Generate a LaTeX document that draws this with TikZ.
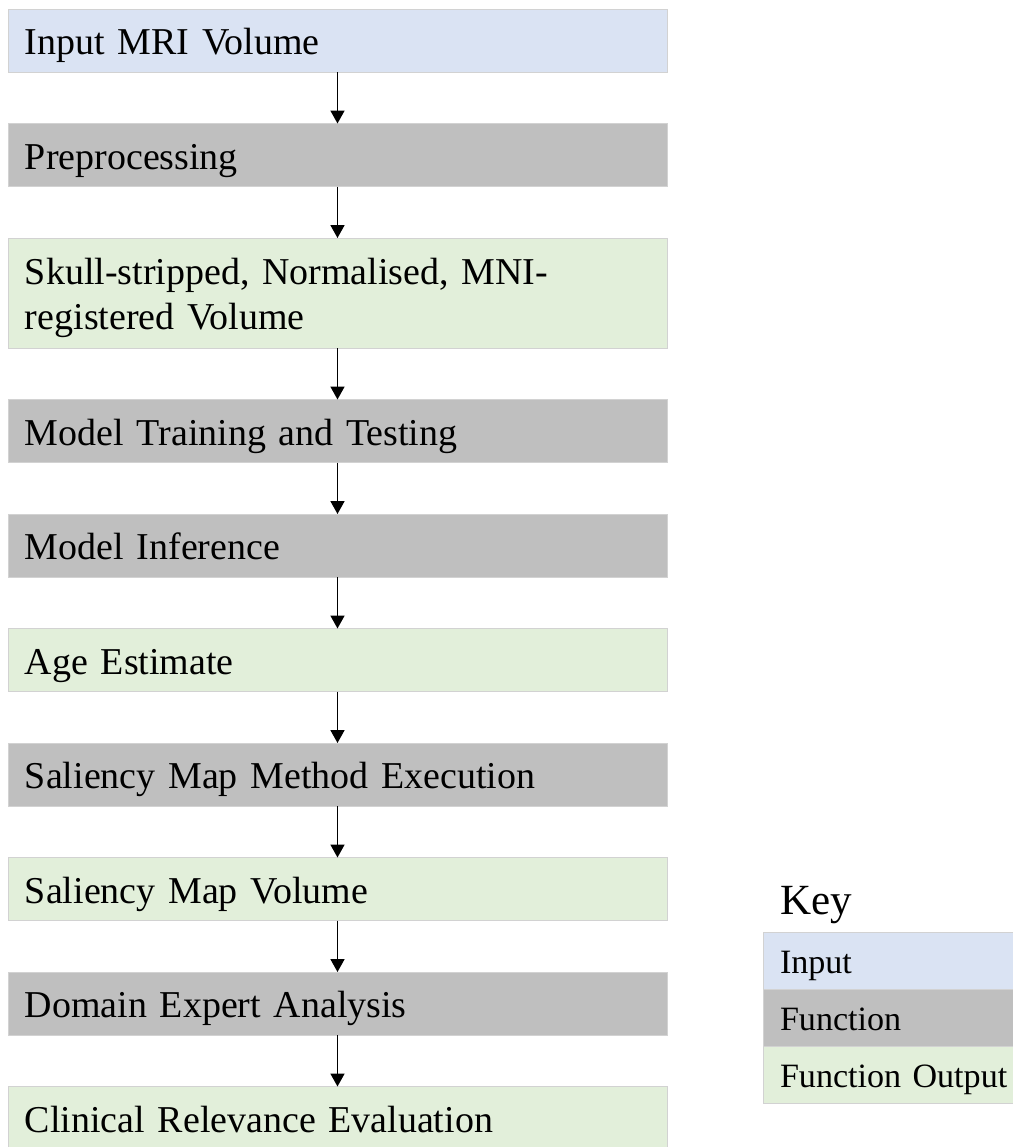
\documentclass[tikz,border=0pt]{standalone}
\usepackage{fontspec}
\setmainfont{Liberation Serif}
\usetikzlibrary{arrows.meta, positioning}
\definecolor{inputblue}{RGB}{218, 227, 243}
\definecolor{funcgray}{RGB}{191, 191, 191}
\definecolor{outgreen}{RGB}{226, 239, 218}
\definecolor{edgegray}{RGB}{210, 210, 210}
\tikzset{
  stage/.style={rectangle, draw=edgegray, line width=0.4pt, fill=#1, outer sep=0pt,
              minimum width=13.18cm, minimum height=1.26cm, text width=12.5cm,
              align=left, inner xsep=0.34cm, inner ysep=0pt,
              text height=0.66cm, text depth=0.1cm,
              font=\fontsize{21.6}{25.6}\selectfont},
  stage/.default=funcgray,
  keybox/.style={rectangle, draw=edgegray, line width=0.4pt, fill=#1, outer sep=0pt,
              minimum width=5cm, minimum height=1.14cm, text width=4.32cm,
              align=left, inner xsep=0.34cm, inner ysep=0pt,
              text height=0.6cm, text depth=0.1cm,
              font=\fontsize{19.4}{23}\selectfont},
  keybox/.default=funcgray,
  arrow/.style={-{Triangle[width=0.28cm, length=0.26cm]}, line width=1pt, color=black},
}
\begin{document}
\begin{tikzpicture}[node distance=1.03cm]
  \useasboundingbox (0,0) rectangle (20.26,-22.94);

  % main pipeline
  \node[stage=inputblue, anchor=north west] (mri) at (0.16,-0.18) {Input MRI Volume};
  \node[stage, below=of mri] (prep) {Preprocessing};
  \node[stage=outgreen, below=of prep, minimum height=2.2cm, text depth=1.0cm] (reg)
        {Skull-stripped, Normalised, MNI-\\registered Volume};
  \node[stage, below=of reg] (train) {Model Training and Testing};
  \node[stage, below=of train] (infer) {Model Inference};
  \node[stage=outgreen, below=of infer] (age) {Age Estimate};
  \node[stage, below=of age] (salexec) {Saliency Map Method Execution};
  \node[stage=outgreen, below=of salexec] (salvol) {Saliency Map Volume};
  \node[stage, below=of salvol] (expert) {Domain Expert Analysis};
  \node[stage=outgreen, below=of expert] (clinical) {Clinical Relevance Evaluation};

  \draw[arrow] (mri) -- (prep);
  \draw[arrow] (prep) -- (reg);
  \draw[arrow] (reg) -- (train);
  \draw[arrow] (train) -- (infer);
  \draw[arrow] (infer) -- (age);
  \draw[arrow] (age) -- (salexec);
  \draw[arrow] (salexec) -- (salvol);
  \draw[arrow] (salvol) -- (expert);
  \draw[arrow] (expert) -- (clinical);

  % key
  \node[anchor=base west, inner sep=0pt, font=\fontsize{24.5}{29}\selectfont] (keytitle)
        at (15.6,-18.28) {Key};
  \node[keybox=inputblue, anchor=north west] (keyin) at (15.26,-18.64) {Input};
  \node[keybox, below=0cm of keyin] (keyfn) {Function};
  \node[keybox=outgreen, below=0cm of keyfn] (keyout) {\mbox{Function Output}};
\end{tikzpicture}
\end{document}
